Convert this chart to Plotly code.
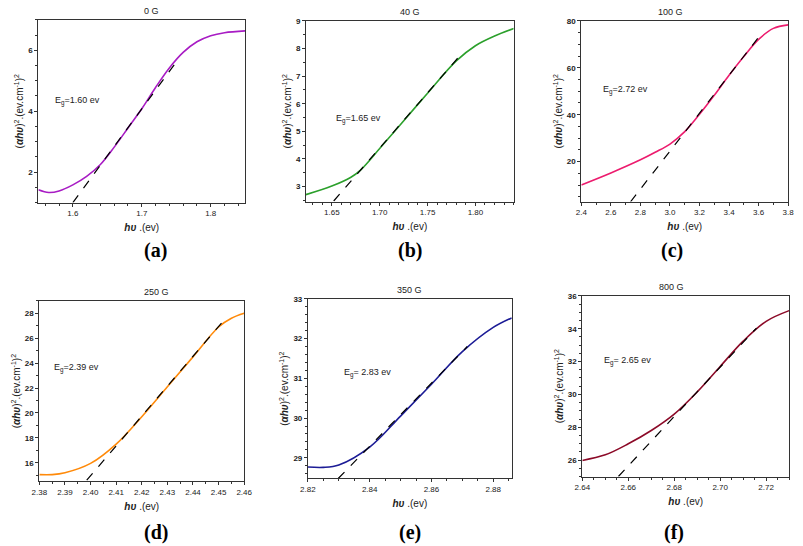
import plotly.graph_objects as go

W, H = 803, 546

titles = ["0 G", "40 G", "100 G", "250 G", "350 G", "800 G"]
letters = ["(a)", "(b)", "(c)", "(d)", "(e)", "(f)"]
eg_labels = ["E<sub>g</sub>=1.60 ev", "E<sub>g</sub>=1.65 ev", "E<sub>g</sub>=2.72 ev",
             "E<sub>g</sub>=2.39 ev", "E<sub>g</sub>= 2.83 ev", "E<sub>g</sub>= 2.65 ev"]
colors = ["#A81CC4", "#2CA02C", "#EC1C6E", "#FF8A0A", "#1C1C96", "#8C0A28"]

# curve data
a_x = [1.55, 1.565, 1.58, 1.60, 1.62, 1.64, 1.66, 1.68, 1.70, 1.72, 1.74, 1.76, 1.78, 1.80, 1.82, 1.85]
a_y = [1.42, 1.33, 1.38, 1.58, 1.86, 2.25, 2.82, 3.45, 4.08, 4.78, 5.42, 5.93, 6.28, 6.48, 6.58, 6.64]
b_x = [1.623, 1.65, 1.67, 1.68, 1.70, 1.72, 1.75, 1.78, 1.80, 1.82, 1.84]
b_y = [2.71, 3.02, 3.34, 3.60, 4.38, 5.18, 6.38, 7.55, 8.10, 8.45, 8.72]
c_x = [2.4, 2.6, 2.8, 2.9, 3.0, 3.1, 3.2, 3.3, 3.4, 3.5, 3.6, 3.7, 3.8]
c_y = [10.1, 15.2, 20.8, 24.0, 27.5, 32.8, 40.2, 48.3, 56.8, 64.8, 72.1, 76.8, 78.3]
d_x = [2.38, 2.385, 2.39, 2.40, 2.41, 2.42, 2.43, 2.44, 2.45, 2.455, 2.46]
d_y = [15.05, 15.05, 15.2, 15.95, 17.5, 19.7, 22.1, 24.5, 26.9, 27.6, 28.0]
e_x = [2.82, 2.825, 2.83, 2.84, 2.85, 2.86, 2.87, 2.88, 2.886]
e_y = [28.77, 28.76, 28.82, 29.27, 30.05, 30.85, 31.67, 32.28, 32.52]
f_x = [2.64, 2.65, 2.66, 2.67, 2.68, 2.69, 2.70, 2.71, 2.72, 2.73]
f_y = [25.98, 26.32, 26.99, 27.80, 28.80, 30.15, 31.70, 33.24, 34.45, 35.10]

# fitted tangent lines (start, end)
a_fit_x = [1.600, 1.752]; a_fit_y = [1.0, 5.68]
b_fit_x = [1.652, 1.786]; b_fit_y = [2.48, 7.83]
c_fit_x = [2.733, 3.60]; c_fit_y = [2.9, 73.0]
d_fit_x = [2.3985, 2.4515]; d_fit_y = [14.6, 27.3]
e_fit_x = [2.8298, 2.8716]; e_fit_y = [28.48, 31.80]
f_fit_x = [2.6557, 2.7158]; f_fit_y = [25.0, 34.04]

curves = [(a_x, a_y), (b_x, b_y), (c_x, c_y), (d_x, d_y), (e_x, e_y), (f_x, f_y)]
fits = [(a_fit_x, a_fit_y), (b_fit_x, b_fit_y), (c_fit_x, c_fit_y),
        (d_fit_x, d_fit_y), (e_fit_x, e_fit_y), (f_fit_x, f_fit_y)]

x_ranges = [[1.55, 1.85], [1.623, 1.84], [2.4, 3.8], [2.38, 2.46], [2.82, 2.886], [2.64, 2.73]]
y_ranges = [[1.0, 7.0], [2.46, 9.0], [3.0, 80.0], [14.5, 29.0], [28.48, 33.0], [25.0, 36.0]]
x_ticks = [[1.6, 1.7, 1.8], [1.65, 1.70, 1.75, 1.80], [2.4, 2.6, 2.8, 3.0, 3.2, 3.4, 3.6, 3.8],
           [2.38, 2.39, 2.40, 2.41, 2.42, 2.43, 2.44, 2.45, 2.46], [2.82, 2.84, 2.86, 2.88],
           [2.64, 2.66, 2.68, 2.70, 2.72]]
x_fmt = [".1f", ".2f", ".1f", ".2f", ".2f", ".2f"]
y_ticks = [[2, 4, 6], [3, 4, 5, 6, 7, 8, 9], [20, 40, 60, 80], [16, 18, 20, 22, 24, 26, 28],
           [29, 30, 31, 32, 33], [26, 28, 30, 32, 34, 36]]

# layout boxes in pixels (left, right, top, bottom)
boxes = [(31, 242, 16, 200), (304, 516, 17, 199), (585, 796, 17, 199),
         (32, 241, 299, 481), (306, 514, 297, 478), (586, 797, 294, 476)]
eg_pos = [(46, 98), (333, 116), (605, 87), (45, 367), (341, 372), (606, 360)]
letter_y = [248, 248, 248, 532, 532, 532]

fig = go.Figure()
layout = dict(width=W, height=H, margin=dict(l=0, r=0, t=0, b=0),
              paper_bgcolor="white", plot_bgcolor="white", showlegend=False,
              font=dict(family="Liberation Sans, Arial", size=8, color="#222"))
annotations = []

ylab = "(<b><i>αhυ</i></b>)<sup>2</sup>.(ev.cm<sup>-1</sup>)<sup>2</sup>"
xlab = "<b><i>hυ</i></b> .(ev)"

for i in range(6):
    n = "" if i == 0 else str(i + 1)
    xa, ya = "x" + n, "y" + n
    l, r, t, b = boxes[i]
    cx, cy = curves[i]
    fx, fy = fits[i]
    fig.add_trace(go.Scatter(x=cx, y=cy, mode="lines", line=dict(color=colors[i], width=1.6, shape="spline"),
                             xaxis=xa, yaxis=ya, hoverinfo="skip"))
    fig.add_trace(go.Scatter(x=fx, y=fy, mode="lines", line=dict(color="black", width=1.2, dash="dash"),
                             xaxis=xa, yaxis=ya, hoverinfo="skip"))
    common = dict(showline=True, linecolor="#333", linewidth=1, mirror=True, showgrid=False,
                  zeroline=False, ticks="outside", ticklen=3, tickwidth=1, tickcolor="#333",
                  minor=dict(ticks="outside", ticklen=2, tickcolor="#333", showgrid=False))
    layout["xaxis" + n] = dict(common, domain=[l / W, r / W], anchor=ya, range=x_ranges[i],
                               tickvals=x_ticks[i], tickformat=x_fmt[i],
                               tickfont=dict(size=8, color="#222"),
                               title=dict(text=xlab, font=dict(size=10, color="#222"), standoff=6))
    layout["yaxis" + n] = dict(common, domain=[1 - b / H, 1 - t / H], anchor=xa, range=y_ranges[i],
                               tickvals=y_ticks[i], tickformat="d",
                               tickfont=dict(size=8, color="#222", weight="bold"),
                               title=dict(text=ylab, font=dict(size=10, color="#222"), standoff=2))
    cxp = (l + r) / 2
    annotations.append(dict(text=titles[i], x=cxp / W, y=1 - (t - 9) / H, xref="paper", yref="paper",
                            yanchor="middle", showarrow=False, font=dict(size=9, color="#222")))
    annotations.append(dict(text="<b>" + letters[i] + "</b>", x=cxp / W, y=1 - letter_y[i] / H,
                            xref="paper", yref="paper", yanchor="middle", showarrow=False,
                            font=dict(size=20, family="Liberation Serif", color="black")))
    ex, ey = eg_pos[i]
    annotations.append(dict(text=eg_labels[i], x=ex / W, y=1 - ey / H, xref="paper", yref="paper",
                            xanchor="left", yanchor="middle", showarrow=False,
                            font=dict(size=9, color="#222")))

layout["annotations"] = annotations
fig.update_layout(**layout)
fig.write_html("out.html")
